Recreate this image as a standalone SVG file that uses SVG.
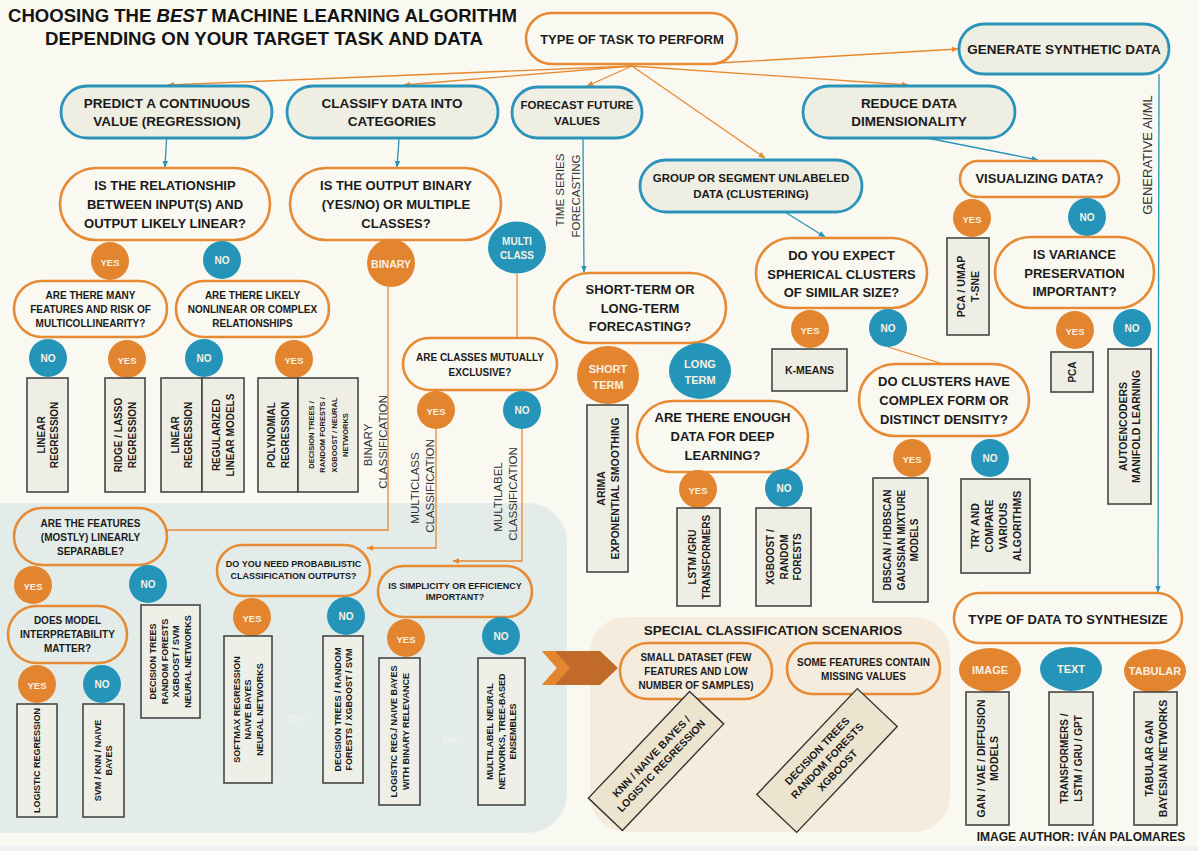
<svg xmlns="http://www.w3.org/2000/svg" width="1198" height="851" viewBox="0 0 1198 851">
<defs>
<style>
.t{font-family:"Liberation Sans",Arial,sans-serif;font-weight:bold;fill:#1b1b1b;text-anchor:middle;dominant-baseline:central}
.w{fill:#f7f1e3}
.r{font-family:"Liberation Sans",Arial,sans-serif;font-weight:normal;fill:#333;text-anchor:middle;dominant-baseline:central}
.tt{font-family:"Liberation Sans",Arial,sans-serif;font-weight:bold;fill:#141414}
.bn{fill:#efeee3;stroke:#2a93ba;stroke-width:2.8}
.on{fill:none;stroke:#e68a34;stroke-width:2.6}
.bx{fill:#efeee4;stroke:#454545;stroke-width:1.6}
.bx2{fill:#eef0e7;stroke:#454545;stroke-width:1.6}
.bx3{fill:#ede4d0;stroke:#333;stroke-width:1.4}
.oc{fill:#e3842f}
.bc{fill:#2495b9}
.ol{fill:none;stroke:#e8892f;stroke-width:1.3}
.bl{fill:none;stroke:#2a93ba;stroke-width:1.3}
</style>
<marker id="ao" viewBox="0 0 10 10" refX="9" refY="5" markerWidth="7" markerHeight="7" orient="auto" markerUnits="userSpaceOnUse"><path d="M0,1 L10,5 L0,9z" fill="#e8892f"/></marker>
<marker id="ab" viewBox="0 0 10 10" refX="9" refY="5" markerWidth="7" markerHeight="7" orient="auto" markerUnits="userSpaceOnUse"><path d="M0,1 L10,5 L0,9z" fill="#2a93ba"/></marker>
</defs>

<rect width="1198" height="851" fill="#f9f8f1"/>
<rect y="846" width="1198" height="5" fill="#eef0f2"/>
<rect id="region-classification" x="-40" y="503" width="607" height="330" rx="40" fill="#e3ece9"/>
<rect id="region-special" x="590" y="617" width="360" height="215" rx="36" fill="#f6ecdd"/>

<g id="title">
<text class="tt" x="8" y="21.5" font-size="18" textLength="509" lengthAdjust="spacingAndGlyphs">CHOOSING THE <tspan font-style="italic">BEST</tspan> MACHINE LEARNING ALGORITHM</text>
<text class="tt" x="45" y="45" font-size="18" textLength="438" lengthAdjust="spacingAndGlyphs">DEPENDING ON YOUR TARGET TASK AND DATA</text>
</g>

<g id="connectors">
<line class="ol" x1="632" y1="66" x2="168" y2="85" marker-end="url(#ao)"/>
<line class="ol" x1="632" y1="66" x2="404" y2="85" marker-end="url(#ao)"/>
<line class="ol" x1="632" y1="66" x2="587" y2="86" marker-end="url(#ao)"/>
<line class="ol" x1="719" y1="63" x2="958" y2="49" marker-end="url(#ao)"/>
<line class="ol" x1="632" y1="66" x2="908" y2="85" marker-end="url(#ao)"/>
<line class="ol" x1="632" y1="66" x2="765" y2="158" marker-end="url(#ao)"/>
<line class="bl" x1="166.5" y1="139" x2="165" y2="167" marker-end="url(#ab)"/>
<line class="bl" x1="399" y1="139" x2="397" y2="167" marker-end="url(#ab)"/>
<line class="bl" x1="583" y1="139" x2="584" y2="272" marker-end="url(#ab)"/>
<line class="bl" x1="927" y1="138" x2="1038" y2="160" marker-end="url(#ab)"/>
<line class="bl" x1="785" y1="212" x2="825" y2="237" marker-end="url(#ab)"/>
<line class="bl" x1="1159" y1="74" x2="1158" y2="592" marker-end="url(#ab)"/>
<polyline class="ol" points="388,287 388,530 167,530"/>
<line class="ol" x1="517" y1="274" x2="517" y2="338"/>
<polyline class="ol" points="436,429 436,548 367,548" marker-end="url(#ao)"/>
<polyline class="ol" points="522,429 522,561 453,561" marker-end="url(#ao)"/>
<line class="ol" x1="888" y1="347" x2="943" y2="364"/>
</g>

<g id="edge-labels">
<text class="r" font-size="11.5" transform="translate(560,190) rotate(-90)">TIME SERIES</text>
<text class="r" font-size="11.5" transform="translate(576,196) rotate(-90)">FORECASTING</text>
<text class="r" font-size="11.5" transform="translate(368,445) rotate(-90)">BINARY</text>
<text class="r" font-size="11.5" transform="translate(383,442) rotate(-90)">CLASSIFICATION</text>
<text class="r" font-size="11.5" transform="translate(415,488) rotate(-90)">MULTICLASS</text>
<text class="r" font-size="11.5" transform="translate(430,486) rotate(-90)">CLASSIFICATION</text>
<text class="r" font-size="11.5" transform="translate(498,497) rotate(-90)">MULTILABEL</text>
<text class="r" font-size="11.5" transform="translate(513,494) rotate(-90)">CLASSIFICATION</text>
<text class="r" font-size="13" transform="translate(1147,155) rotate(-90)">GENERATIVE AI/ML</text>
</g>

<!-- level 0 / 1 -->
<g id="n-task"><rect class="on" x="526" y="13" width="211" height="51" rx="25.5"/><text class="t" x="632" y="39" font-size="13">TYPE OF TASK TO PERFORM</text></g>
<g id="n-generate"><rect class="bn" x="959" y="24" width="210" height="50" rx="25"/><text class="t" x="1064" y="49" font-size="13.5">GENERATE SYNTHETIC DATA</text></g>
<g id="n-predict"><rect class="bn" x="61" y="86" width="211" height="52" rx="26"/><text class="t" font-size="13.5"><tspan x="167" y="102.5">PREDICT A CONTINUOUS</tspan><tspan x="167" y="121">VALUE (REGRESSION)</tspan></text></g>
<g id="n-classify"><rect class="bn" x="287" y="86" width="211" height="52" rx="26"/><text class="t" font-size="13.5"><tspan x="392" y="102.5">CLASSIFY DATA INTO</tspan><tspan x="392" y="121">CATEGORIES</tspan></text></g>
<g id="n-forecast"><rect class="bn" x="512" y="87" width="130" height="51" rx="25.5"/><text class="t" font-size="11.5"><tspan x="577" y="105">FORECAST FUTURE</tspan><tspan x="577" y="121">VALUES</tspan></text></g>
<g id="n-reduce"><rect class="bn" x="803" y="86" width="212" height="52" rx="26"/><text class="t" font-size="13.5"><tspan x="909" y="102.5">REDUCE DATA</tspan><tspan x="909" y="121">DIMENSIONALITY</tspan></text></g>
<g id="n-group"><rect class="bn" x="640" y="160" width="222" height="52" rx="26"/><text class="t" font-size="11.5"><tspan x="751" y="178">GROUP OR SEGMENT UNLABELED</tspan><tspan x="751" y="194">DATA (CLUSTERING)</tspan></text></g>

<!-- regression -->
<g id="q-linear"><rect class="on" x="60" y="168" width="210" height="72" rx="36"/><text class="t" font-size="13"><tspan x="165" y="185">IS THE RELATIONSHIP</tspan><tspan x="165" y="204">BETWEEN INPUT(S) AND</tspan><tspan x="165" y="222.5">OUTPUT LIKELY LINEAR?</tspan></text></g>
<g id="c-yes1"><circle class="oc" cx="110" cy="261" r="19"/><text class="t w" x="110" y="262" font-size="9.5">YES</text></g>
<g id="c-no1"><circle class="bc" cx="222" cy="260" r="19"/><text class="t w" x="222" y="260" font-size="10">NO</text></g>
<g id="q-multicol"><rect class="on" x="14" y="281" width="153" height="56" rx="28"/><text class="t" font-size="10"><tspan x="90.5" y="295">ARE THERE MANY</tspan><tspan x="90.5" y="309">FEATURES AND RISK OF</tspan><tspan x="90.5" y="323">MULTICOLLINEARITY?</tspan></text></g>
<g id="q-nonlinear"><rect class="on" x="176" y="281" width="153" height="56" rx="28"/><text class="t" font-size="10"><tspan x="252.5" y="295">ARE THERE LIKELY</tspan><tspan x="252.5" y="309">NONLINEAR OR COMPLEX</tspan><tspan x="252.5" y="323">RELATIONSHIPS</tspan></text></g>
<g id="c-no2"><circle class="bc" cx="48" cy="358" r="19"/><text class="t w" x="48" y="358" font-size="10">NO</text></g>
<g id="c-yes2"><circle class="oc" cx="127" cy="359" r="19"/><text class="t w" x="127" y="360" font-size="9.5">YES</text></g>
<g id="c-no3"><circle class="bc" cx="204" cy="358" r="19"/><text class="t w" x="204" y="358" font-size="10">NO</text></g>
<g id="c-yes3"><circle class="oc" cx="294" cy="359" r="19"/><text class="t w" x="294" y="360" font-size="9.5">YES</text></g>
<g id="b-linreg1"><rect class="bx" x="27" y="378" width="41" height="114"/><text class="t" font-size="10" transform="translate(47.5,435) rotate(-90)"><tspan x="0" y="-6.5">LINEAR</tspan><tspan x="0" y="6.5">REGRESSION</tspan></text></g>
<g id="b-ridge"><rect class="bx" x="105" y="378" width="40" height="114"/><text class="t" font-size="10" transform="translate(125,435) rotate(-90)"><tspan x="0" y="-7">RIDGE / LASSO</tspan><tspan x="0" y="7">REGRESSION</tspan></text></g>
<g id="b-linreg2"><rect class="bx" x="161" y="378" width="41" height="114"/><text class="t" font-size="10" transform="translate(181.5,435) rotate(-90)"><tspan x="0" y="-6.5">LINEAR</tspan><tspan x="0" y="6.5">REGRESSION</tspan></text></g>
<g id="b-regularized"><rect class="bx" x="202" y="378" width="42" height="114"/><text class="t" font-size="10" transform="translate(223,435) rotate(-90)"><tspan x="0" y="-7">REGULARIZED</tspan><tspan x="0" y="7">LINEAR MODELS</tspan></text></g>
<g id="b-poly"><rect class="bx" x="258" y="378" width="40" height="114"/><text class="t" font-size="10" transform="translate(278,435) rotate(-90)"><tspan x="0" y="-7">POLYNOMIAL</tspan><tspan x="0" y="7">REGRESSION</tspan></text></g>
<g id="b-trees1"><rect class="bx" x="298" y="378" width="60" height="114"/><text class="t" font-size="7.5" transform="translate(328,435) rotate(-90)"><tspan x="0" y="-17.5">DECISION TREES /</tspan><tspan x="0" y="-6">RANDOM FORESTS /</tspan><tspan x="0" y="5.5">XGBOOST / NEURAL</tspan><tspan x="0" y="17">NETWORKS</tspan></text></g>

<!-- classification -->
<g id="q-binary"><rect class="on" x="290" y="168" width="211" height="72" rx="36"/><text class="t" font-size="13"><tspan x="396" y="185">IS THE OUTPUT BINARY</tspan><tspan x="396" y="204">(YES/NO) OR MULTIPLE</tspan><tspan x="396" y="222.5">CLASSES?</tspan></text></g>
<g id="c-binary"><circle class="oc" cx="391" cy="263" r="24"/><text class="t w" x="391" y="264" font-size="10.5">BINARY</text></g>
<g id="c-multi"><ellipse class="bc" cx="517" cy="247.5" rx="29" ry="26"/><text class="t w" font-size="10"><tspan x="517" y="241">MULTI</tspan><tspan x="517" y="255">CLASS</tspan></text></g>
<g id="q-exclusive"><rect class="on" x="403" y="338" width="154" height="52" rx="26"/><text class="t" font-size="10"><tspan x="480" y="357">ARE CLASSES MUTUALLY</tspan><tspan x="480" y="371.5">EXCLUSIVE?</tspan></text></g>
<g id="c-yes4"><circle class="oc" cx="436" cy="410" r="19"/><text class="t w" x="436" y="411" font-size="9.5">YES</text></g>
<g id="c-no4"><circle class="bc" cx="522" cy="410" r="19"/><text class="t w" x="522" y="410" font-size="10">NO</text></g>

<g id="q-separable"><rect class="on" x="14" y="508" width="153" height="57" rx="28.5"/><text class="t" font-size="10"><tspan x="90.5" y="523">ARE THE FEATURES</tspan><tspan x="90.5" y="537">(MOSTLY) LINEARLY</tspan><tspan x="90.5" y="551">SEPARABLE?</tspan></text></g>
<g id="c-yes5"><circle class="oc" cx="33" cy="585" r="19"/><text class="t w" x="33" y="586" font-size="9.5">YES</text></g>
<g id="c-no5"><circle class="bc" cx="148" cy="584" r="19"/><text class="t w" x="148" y="584" font-size="10">NO</text></g>
<g id="q-interpret"><rect class="on" x="8" y="606" width="119" height="57" rx="28.5"/><text class="t" font-size="10"><tspan x="67.5" y="620">DOES MODEL</tspan><tspan x="67.5" y="634">INTERPRETABILITY</tspan><tspan x="67.5" y="648">MATTER?</tspan></text></g>
<g id="c-yes6"><circle class="oc" cx="37" cy="684" r="19"/><text class="t w" x="37" y="685" font-size="9.5">YES</text></g>
<g id="c-no6"><circle class="bc" cx="102" cy="684" r="19"/><text class="t w" x="102" y="684" font-size="10">NO</text></g>
<g id="b-logistic"><rect class="bx2" x="17" y="704" width="40" height="113"/><text class="t" font-size="9" transform="translate(37,760.5) rotate(-90)"><tspan x="0" y="0">LOGISTIC REGRESSION</tspan></text></g>
<g id="b-svm"><rect class="bx2" x="83" y="704" width="41" height="113"/><text class="t" font-size="9" transform="translate(103.5,760.5) rotate(-90)"><tspan x="0" y="-5.5">SVM / KNN / NAIVE</tspan><tspan x="0" y="5.5">BAYES</tspan></text></g>
<g id="b-trees2"><rect class="bx2" x="141" y="605" width="59" height="113"/><text class="t" font-size="9" transform="translate(170.5,661.5) rotate(-90)"><tspan x="0" y="-17.5">DECISION TREES</tspan><tspan x="0" y="-6">RANDOM FORESTS</tspan><tspan x="0" y="5.5">XGBOOST / SVM</tspan><tspan x="0" y="17">NEURAL NETWORKS</tspan></text></g>

<g id="q-prob"><rect class="on" x="217" y="545" width="153" height="51" rx="25.5"/><text class="t" font-size="9"><tspan x="293.5" y="564">DO YOU NEED PROBABILISTIC</tspan><tspan x="293.5" y="576">CLASSIFICATION OUTPUTS?</tspan></text></g>
<g id="c-yes7"><circle class="oc" cx="252" cy="617" r="19"/><text class="t w" x="252" y="618" font-size="9.5">YES</text></g>
<g id="c-no7"><circle class="bc" cx="346" cy="616" r="19"/><text class="t w" x="346" y="616" font-size="10">NO</text></g>
<g id="b-softmax"><rect class="bx2" x="224" y="636" width="48" height="147"/><text class="t" font-size="9" transform="translate(248,709.5) rotate(-90)"><tspan x="0" y="-11.5">SOFTMAX REGRESSION</tspan><tspan x="0" y="0">NAIVE BAYES</tspan><tspan x="0" y="11.5">NEURAL NETWORKS</tspan></text></g>
<g id="b-trees3"><rect class="bx2" x="323" y="636" width="40" height="147"/><text class="t" font-size="9" transform="translate(343,709.5) rotate(-90)"><tspan x="0" y="-5.5">DECISION TREES / RANDOM</tspan><tspan x="0" y="5.5">FORESTS / XGBOOST / SVM</tspan></text></g>

<g id="q-simplicity"><rect class="on" x="378" y="566" width="154" height="51" rx="25.5"/><text class="t" font-size="9"><tspan x="455" y="586">IS SIMPLICITY OR EFFICIENCY</tspan><tspan x="455" y="597">IMPORTANT?</tspan></text></g>
<g id="c-yes8"><circle class="oc" cx="406" cy="638" r="19"/><text class="t w" x="406" y="639" font-size="9.5">YES</text></g>
<g id="c-no8"><circle class="bc" cx="501" cy="636" r="19"/><text class="t w" x="501" y="636" font-size="10">NO</text></g>
<g id="b-binrel"><rect class="bx2" x="379" y="658" width="41" height="147"/><text class="t" font-size="9" transform="translate(399.5,731.5) rotate(-90)"><tspan x="0" y="-6">LOGISTIC REG./ NAIVE BAYES</tspan><tspan x="0" y="6">WITH BINARY RELEVANCE</tspan></text></g>
<g id="b-multilabel"><rect class="bx2" x="478" y="658" width="47" height="147"/><text class="t" font-size="9" transform="translate(501.5,731.5) rotate(-90)"><tspan x="0" y="-11.5">MULTILABEL NEURAL</tspan><tspan x="0" y="0">NETWORKS, TREE-BASED</tspan><tspan x="0" y="11.5">ENSEMBLES</tspan></text></g>
<text class="t" x="298" y="717" font-size="9.5" fill="#eef3f1" style="fill:#edf3f1">END</text>
<text class="t" x="453" y="739" font-size="9.5" style="fill:#edf3f1">END</text>

<!-- special scenarios -->
<g id="chevron"><polygon points="542,651 600,651 618,668 600,685 542,685 557,668" fill="#c26a2a"/><polygon points="542,651 555,651 570,668 555,685 542,685 557,668" fill="#e2862f"/></g>
<text class="t" x="773" y="630" font-size="13.5">SPECIAL CLASSIFICATION SCENARIOS</text>
<g id="q-small"><rect class="on" x="620" y="643" width="152" height="56" rx="28"/><text class="t" font-size="10"><tspan x="696" y="657">SMALL DATASET (FEW</tspan><tspan x="696" y="671">FEATURES AND LOW</tspan><tspan x="696" y="685">NUMBER OF SAMPLES)</tspan></text></g>
<g id="q-missing"><rect class="on" x="787" y="643" width="153" height="51" rx="25.5"/><text class="t" font-size="10"><tspan x="863.5" y="662">SOME FEATURES CONTAIN</tspan><tspan x="863.5" y="676">MISSING VALUES</tspan></text></g>
<g id="b-knn" transform="translate(656,761) rotate(-46.5)"><rect class="bx3" x="-73.5" y="-23.5" width="147" height="47"/><text class="t" font-size="10.5"><tspan x="0" y="-6.8">KNN / NAIVE BAYES /</tspan><tspan x="0" y="6.8">LOGISTIC REGRESSION</tspan></text></g>
<g id="b-trees4" transform="translate(827,760.5) rotate(-46.5)"><rect class="bx3" x="-73" y="-27.5" width="146" height="55"/><text class="t" font-size="10.5"><tspan x="0" y="-14">DECISION TREES</tspan><tspan x="0" y="0">RANDOM FORESTS</tspan><tspan x="0" y="14">XGBOOST</tspan></text></g>

<!-- forecasting -->
<g id="q-term"><rect class="on" x="554" y="273" width="172" height="70" rx="35"/><text class="t" font-size="13"><tspan x="640" y="289">SHORT-TERM OR</tspan><tspan x="640" y="307.5">LONG-TERM</tspan><tspan x="640" y="326">FORECASTING?</tspan></text></g>
<g id="c-short"><ellipse class="oc" cx="608" cy="375" rx="31" ry="29"/><text class="t w" font-size="11"><tspan x="608" y="369">SHORT</tspan><tspan x="608" y="385">TERM</tspan></text></g>
<g id="c-long"><ellipse class="bc" cx="700" cy="371" rx="31" ry="28"/><text class="t w" font-size="11"><tspan x="700" y="364">LONG</tspan><tspan x="700" y="380">TERM</tspan></text></g>
<g id="b-arima"><rect class="bx" x="587" y="405" width="41" height="167"/><text class="t" font-size="10.5" transform="translate(607.5,488.5) rotate(-90)"><tspan x="0" y="-7">ARIMA</tspan><tspan x="0" y="7">EXPONENTIAL SMOOTHING</tspan></text></g>
<g id="q-deep"><rect class="on" x="637" y="401" width="171" height="71" rx="35.5"/><text class="t" font-size="13"><tspan x="722.5" y="417">ARE THERE ENOUGH</tspan><tspan x="722.5" y="436">DATA FOR DEEP</tspan><tspan x="722.5" y="454.5">LEARNING?</tspan></text></g>
<g id="c-yes9"><circle class="oc" cx="698" cy="489" r="19"/><text class="t w" x="698" y="490" font-size="9.5">YES</text></g>
<g id="c-no9"><circle class="bc" cx="784" cy="488" r="19"/><text class="t w" x="784" y="488" font-size="10">NO</text></g>
<g id="b-lstm"><rect class="bx" x="677" y="508" width="43" height="98"/><text class="t" font-size="10" transform="translate(698.5,557) rotate(-90)"><tspan x="0" y="-7">LSTM /GRU</tspan><tspan x="0" y="7">TRANSFORMERS</tspan></text></g>
<g id="b-xgb"><rect class="bx" x="756" y="508" width="55" height="98"/><text class="t" font-size="10" transform="translate(783.5,557) rotate(-90)"><tspan x="0" y="-13.5">XGBOOST /</tspan><tspan x="0" y="0">RANDOM</tspan><tspan x="0" y="13.5">FORESTS</tspan></text></g>

<!-- clustering -->
<g id="q-spherical"><rect class="on" x="756" y="238" width="171" height="70" rx="35"/><text class="t" font-size="13"><tspan x="841.5" y="255">DO YOU EXPECT</tspan><tspan x="841.5" y="273.5">SPHERICAL CLUSTERS</tspan><tspan x="841.5" y="292">OF SIMILAR SIZE?</tspan></text></g>
<g id="c-yes10"><circle class="oc" cx="810" cy="329" r="19"/><text class="t w" x="810" y="330" font-size="9.5">YES</text></g>
<g id="c-no10"><circle class="bc" cx="888" cy="328" r="19"/><text class="t w" x="888" y="328" font-size="10">NO</text></g>
<g id="b-kmeans"><rect class="bx" x="772" y="349" width="75" height="42"/><text class="t" x="809.5" y="370" font-size="10.5">K-MEANS</text></g>
<g id="q-density"><rect class="on" x="859" y="364" width="170" height="72" rx="36"/><text class="t" font-size="13"><tspan x="944" y="381">DO CLUSTERS HAVE</tspan><tspan x="944" y="400">COMPLEX FORM OR</tspan><tspan x="944" y="419">DISTINCT DENSITY?</tspan></text></g>
<g id="c-yes11"><circle class="oc" cx="912" cy="458" r="19"/><text class="t w" x="912" y="459" font-size="9.5">YES</text></g>
<g id="c-no11"><circle class="bc" cx="990" cy="458" r="19"/><text class="t w" x="990" y="458" font-size="10">NO</text></g>
<g id="b-dbscan"><rect class="bx" x="873" y="478" width="55" height="124"/><text class="t" font-size="10" transform="translate(900.5,540) rotate(-90)"><tspan x="0" y="-13.5">DBSCAN / HDBSCAN</tspan><tspan x="0" y="0">GAUSSIAN MIXTURE</tspan><tspan x="0" y="13.5">MODELS</tspan></text></g>
<g id="b-try"><rect class="bx" x="961" y="479" width="69" height="94"/><text class="t" font-size="10.5" transform="translate(995.5,526) rotate(-90)"><tspan x="0" y="-21">TRY AND</tspan><tspan x="0" y="-7">COMPARE</tspan><tspan x="0" y="7">VARIOUS</tspan><tspan x="0" y="21">ALGORITHMS</tspan></text></g>

<!-- dimensionality -->
<g id="q-visual"><rect class="on" x="960" y="161" width="159" height="36" rx="18"/><text class="t" x="1039.5" y="178.5" font-size="13">VISUALIZING DATA?</text></g>
<g id="c-yes12"><circle class="oc" cx="972" cy="218" r="19"/><text class="t w" x="972" y="219" font-size="9.5">YES</text></g>
<g id="c-no12"><circle class="bc" cx="1087" cy="217" r="19"/><text class="t w" x="1087" y="217" font-size="10">NO</text></g>
<g id="b-umap"><rect class="bx" x="947" y="238" width="42" height="97"/><text class="t" font-size="10.5" transform="translate(968,286.5) rotate(-90)"><tspan x="0" y="-7">PCA / UMAP</tspan><tspan x="0" y="7">T-SNE</tspan></text></g>
<g id="q-variance"><rect class="on" x="995" y="237" width="159" height="71" rx="35.5"/><text class="t" font-size="13"><tspan x="1074.5" y="253.5">IS VARIANCE</tspan><tspan x="1074.5" y="272.5">PRESERVATION</tspan><tspan x="1074.5" y="291">IMPORTANT?</tspan></text></g>
<g id="c-yes13"><circle class="oc" cx="1075" cy="330" r="19"/><text class="t w" x="1075" y="331" font-size="9.5">YES</text></g>
<g id="c-no13"><circle class="bc" cx="1132" cy="328" r="19"/><text class="t w" x="1132" y="328" font-size="10">NO</text></g>
<g id="b-pca"><rect class="bx" x="1051" y="352" width="42" height="40"/><text class="t" font-size="10" transform="translate(1072,372) rotate(-90)"><tspan x="0" y="0">PCA</tspan></text></g>
<g id="b-autoenc"><rect class="bx" x="1108" y="349" width="43" height="155"/><text class="t" font-size="10.5" transform="translate(1129.5,426.5) rotate(-90)"><tspan x="0" y="-6.5">AUTOENCODERS</tspan><tspan x="0" y="6.5">MANIFOLD LEARNING</tspan></text></g>

<!-- synthetic data -->
<g id="q-synth"><rect class="on" x="954" y="593" width="228" height="50" rx="25"/><text class="t" x="1068" y="619" font-size="13">TYPE OF DATA TO SYNTHESIZE</text></g>
<g id="c-image"><ellipse class="oc" cx="990" cy="670" rx="31" ry="22"/><text class="t w" x="990" y="670" font-size="11">IMAGE</text></g>
<g id="c-text"><ellipse class="bc" cx="1071" cy="669" rx="31" ry="22"/><text class="t w" x="1071" y="669" font-size="11">TEXT</text></g>
<g id="c-tabular"><ellipse class="oc" cx="1155" cy="671" rx="31" ry="22"/><text class="t w" x="1155" y="671" font-size="11">TABULAR</text></g>
<g id="b-gan"><rect class="bx" x="966" y="692" width="43" height="133"/><text class="t" font-size="10.5" transform="translate(987.5,758.5) rotate(-90)"><tspan x="0" y="-6.5">GAN / VAE / DIFFUSION</tspan><tspan x="0" y="6.5">MODELS</tspan></text></g>
<g id="b-transformers"><rect class="bx" x="1049" y="692" width="44" height="133"/><text class="t" font-size="10" transform="translate(1071,758.5) rotate(-90)"><tspan x="0" y="-7">TRANSFORMERS /</tspan><tspan x="0" y="7">LSTM / GRU / GPT</tspan></text></g>
<g id="b-tabgan"><rect class="bx" x="1134" y="692" width="43" height="133"/><text class="t" font-size="10.5" transform="translate(1155.5,758.5) rotate(-90)"><tspan x="0" y="-7">TABULAR GAN</tspan><tspan x="0" y="7">BAYESIAN NETWORKS</tspan></text></g>

<text class="t" x="1081" y="837" font-size="12">IMAGE AUTHOR: IVÁN PALOMARES</text>
</svg>
